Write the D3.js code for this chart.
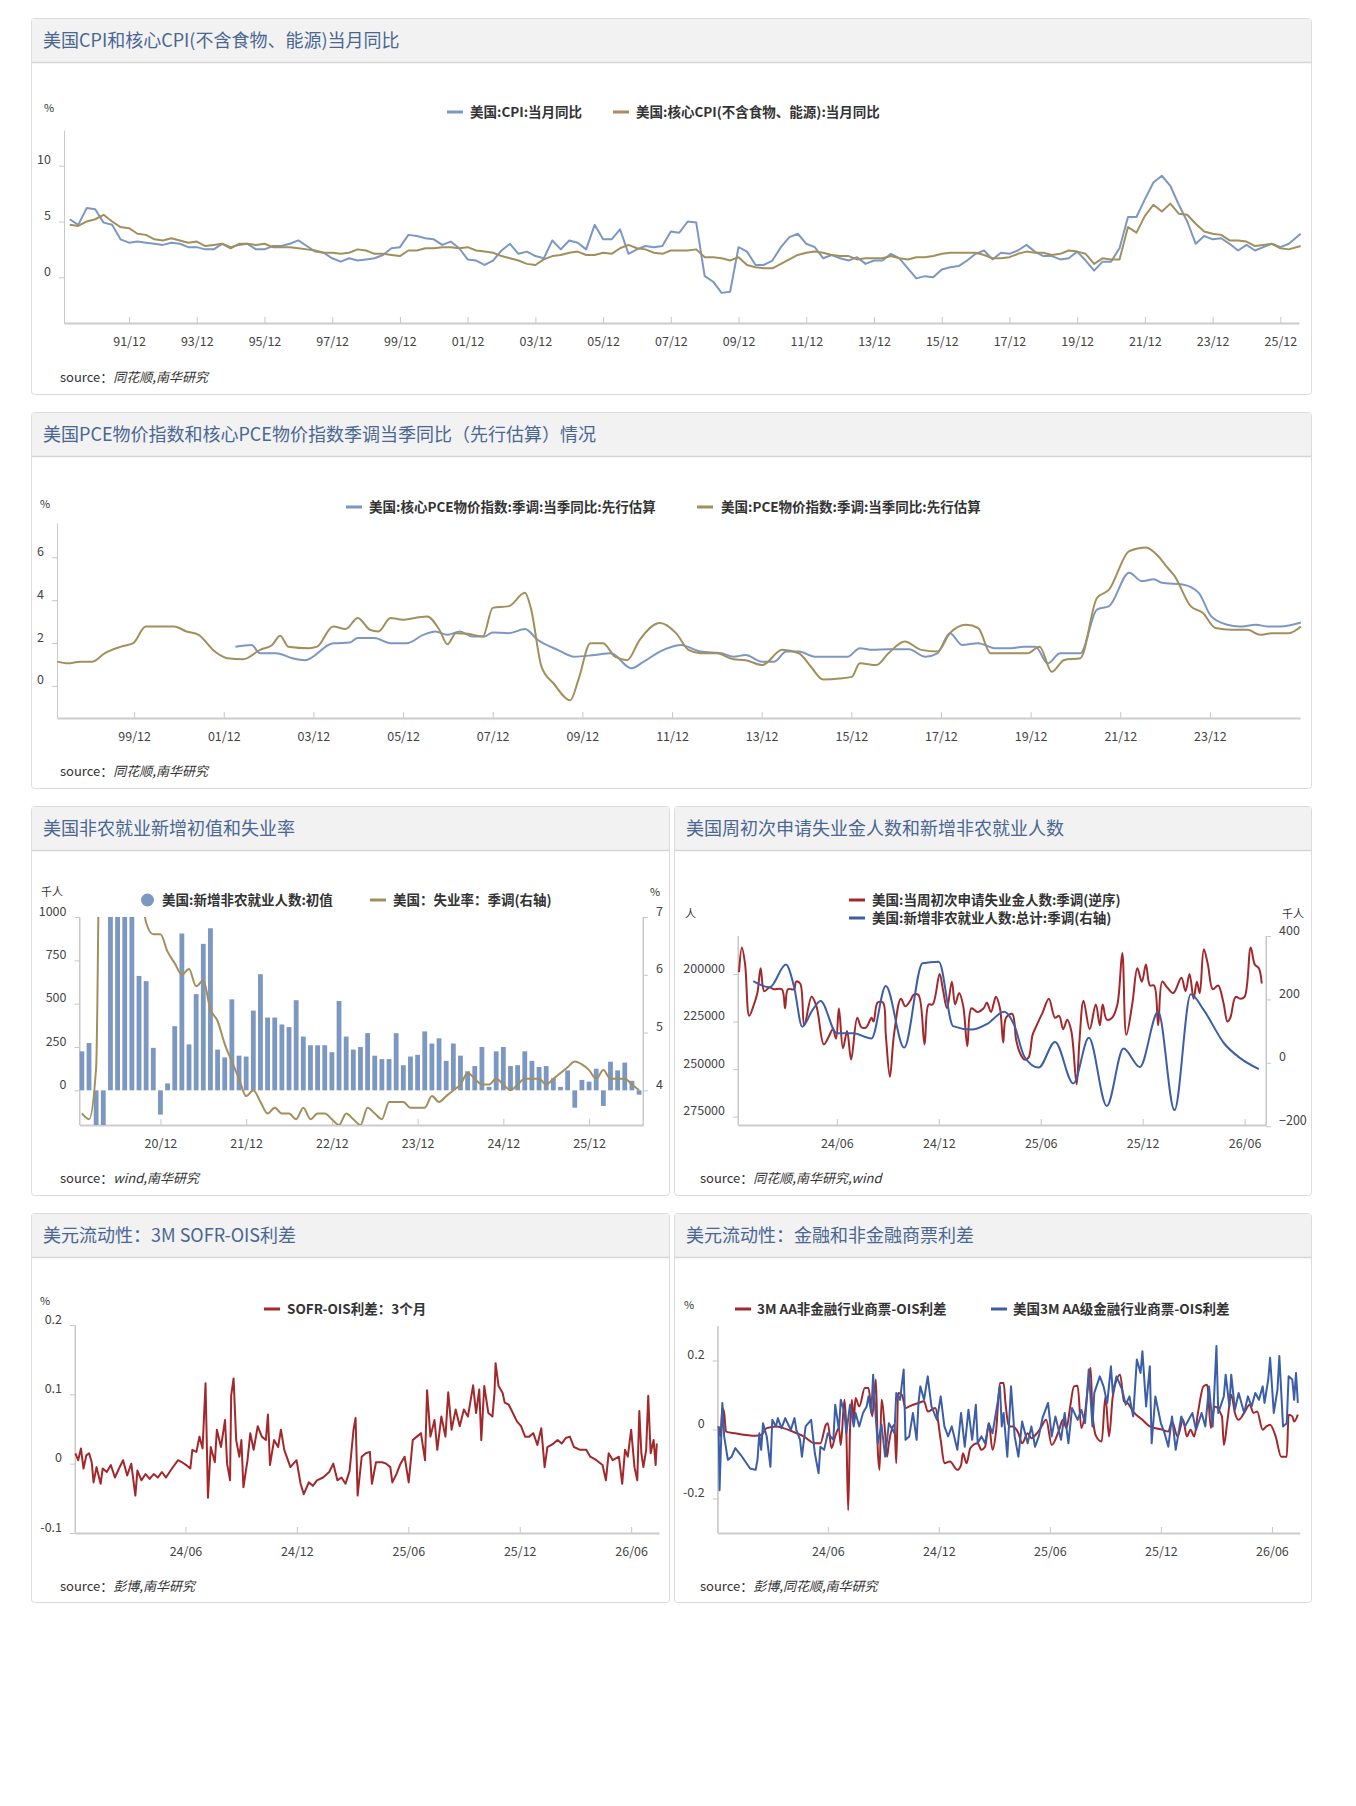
<!DOCTYPE html>
<html><head><meta charset="utf-8">
<script src="https://cdn.jsdelivr.net/npm/d3@7"></script>
<style>body{margin:0;background:#fff;font-family:"Noto Sans CJK SC","Noto Sans",sans-serif}</style>
</head><body><svg id="c" width="1356" height="1806"></svg>
<script>
// ---------- DATA ----------
// Chart 1: CPI YoY, quarterly (Mar,Jun,Sep,Dec) 1990-2025 + 2026 H1
const cpiVals=[5.2,4.7,6.2,6.1, 4.9,4.7,3.4,3.1, 3.2,3.1,3.0,2.9, 3.1,3.0,2.7,2.7, 2.5,2.5,3.0,2.7, 2.9,3.0,2.5,2.5, 2.8,2.8,3.0,3.3, 2.8,2.3,2.2,1.7, 1.4,1.7,1.5,1.6, 1.7,2.0,2.6,2.7, 3.8,3.7,3.5,3.4, 2.9,3.2,2.6,1.6, 1.5,1.1,1.5,2.4, 3.0,2.1,2.3,1.9, 1.7,3.3,2.5,3.3, 3.1,2.5,4.7,3.4, 3.4,4.3,2.1,2.5, 2.8,2.7,2.8,4.1, 4.0,5.0,4.9,0.1, -0.4,-1.4,-1.3,2.7, 2.3,1.1,1.1,1.5, 2.7,3.6,3.9,3.0, 2.7,1.7,2.0,1.7, 1.5,1.8,1.2,1.5, 1.5,2.1,1.7,0.8, -0.1,0.1,0.0,0.7, 0.9,1.0,1.5,2.1, 2.4,1.6,2.2,2.1, 2.4,2.9,2.3,1.9, 1.9,1.6,1.7,2.3, 1.5,0.6,1.4,1.4, 2.6,5.4,5.4,7.0, 8.5,9.1,8.2,6.5, 5.0,3.0,3.7,3.4, 3.5,3.0,2.4,2.9, 2.4,2.7,3.0,2.7, 3.0,3.9];
const coreVals=[4.7,4.6,5.0,5.2, 5.6,5.0,4.5,4.4, 3.9,3.8,3.4,3.3, 3.5,3.3,3.1,3.2, 2.8,2.9,3.0,2.6, 3.0,3.0,2.9,3.0, 2.7,2.7,2.7,2.6, 2.5,2.4,2.2,2.2, 2.1,2.2,2.5,2.4, 2.1,2.1,2.0,1.9, 2.4,2.4,2.6,2.6, 2.7,2.7,2.6,2.7, 2.4,2.3,2.2,1.9, 1.7,1.5,1.2,1.1, 1.6,1.9,2.0,2.2, 2.3,2.0,2.0,2.2, 2.1,2.6,2.9,2.6, 2.5,2.2,2.1,2.4, 2.4,2.4,2.5,1.8, 1.8,1.7,1.5,1.8, 1.1,0.9,0.8,0.8, 1.2,1.6,2.0,2.2, 2.3,2.2,2.0,1.9, 1.9,1.6,1.7,1.7, 1.7,1.9,1.7,1.6, 1.8,1.8,1.9,2.1, 2.2,2.2,2.2,2.2, 2.0,1.7,1.7,1.8, 2.1,2.3,2.2,2.2, 2.0,2.1,2.4,2.3, 2.1,1.2,1.7,1.6, 1.6,4.5,4.0,5.5, 6.5,5.9,6.6,5.7, 5.6,4.8,4.1,3.9, 3.8,3.3,3.3,3.2, 2.8,2.9,3.0,2.6, 2.5,2.8];
const cpiTicks=["91/12","93/12","95/12","97/12","99/12","01/12","03/12","05/12","07/12","09/12","11/12","13/12","15/12","17/12","19/12","21/12","23/12","25/12"];

// Chart 2: PCE (decimal year, value)
const pceData=[[1998.21,1.13],[1998.44,1.05],[1998.72,1.13],[1998.99,1.13],[1999.26,1.52],[1999.63,1.83],[1999.9,1.99],[2000.18,2.77],[2000.81,2.77],[2001.09,2.54],[2001.36,2.38],[2001.72,1.6],[2002.0,1.29],[2002.36,1.24],[2002.73,1.68],[2003.0,1.91],[2003.18,2.34],[2003.36,1.83],[2003.82,1.76],[2004.0,1.83],[2004.36,2.77],[2004.64,2.65],[2004.91,3.17],[2005.18,2.62],[2005.37,2.54],[2005.64,3.17],[2005.91,3.09],[2006.19,3.17],[2006.46,3.24],[2006.73,2.62],[2006.91,1.94],[2007.1,2.46],[2007.37,2.43],[2007.7,2.3],[2007.92,3.64],[2008.28,3.72],[2008.64,4.34],[2008.77,3.64],[2009.01,0.89],[2009.28,0.11],[2009.65,-0.67],[2009.83,0.27],[2010.1,1.99],[2010.38,1.99],[2010.65,1.36],[2010.92,1.2],[2011.2,2.15],[2011.65,2.93],[2012.01,2.46],[2012.29,1.68],[2012.56,1.52],[2012.92,1.52],[2013.29,1.24],[2013.56,1.2],[2013.93,0.97],[2014.38,1.68],[2014.75,1.52],[2015.02,0.89],[2015.29,0.3],[2015.66,0.34],[2015.93,0.42],[2016.11,1.05],[2016.48,0.97],[2016.75,1.52],[2017.11,2.07],[2017.48,1.68],[2017.84,1.6],[2018.12,2.46],[2018.48,2.85],[2018.75,2.7],[2019.03,1.52],[2019.48,1.52],[2019.85,1.52],[2020.12,1.83],[2020.39,0.66],[2020.67,1.21],[2021.03,1.29],[2021.4,4.1],[2021.67,4.49],[2022.12,6.29],[2022.49,6.46],[2022.76,6.07],[2022.94,5.6],[2023.13,5.13],[2023.49,3.72],[2023.76,3.41],[2024.04,2.7],[2024.4,2.62],[2024.76,2.62],[2025.04,2.38],[2025.31,2.46],[2025.68,2.46],[2025.95,2.77]];
const corePceData=[[2002.18,1.83],[2002.54,1.91],[2002.73,1.52],[2003.09,1.52],[2003.45,1.29],[2003.73,1.2],[2004.36,1.99],[2004.73,2.02],[2004.91,2.23],[2005.28,2.23],[2005.64,1.99],[2006.0,1.99],[2006.37,2.38],[2006.64,2.54],[2006.91,2.38],[2007.19,2.54],[2007.46,2.3],[2007.73,2.3],[2007.92,2.49],[2008.28,2.46],[2008.64,2.65],[2008.92,2.15],[2009.37,1.68],[2009.74,1.36],[2010.19,1.44],[2010.56,1.52],[2011.01,0.82],[2011.29,1.13],[2011.65,1.6],[2012.11,1.91],[2012.56,1.6],[2013.02,1.52],[2013.29,1.36],[2013.56,1.44],[2013.93,1.13],[2014.2,1.13],[2014.47,1.6],[2014.75,1.6],[2015.11,1.36],[2015.84,1.36],[2016.11,1.76],[2016.39,1.68],[2016.75,1.71],[2017.21,1.71],[2017.57,1.36],[2017.84,1.52],[2018.12,2.46],[2018.39,1.91],[2018.75,1.99],[2019.12,1.76],[2019.48,1.76],[2019.76,1.83],[2020.03,1.83],[2020.3,1.05],[2020.58,1.52],[2021.03,1.52],[2021.4,3.56],[2021.67,3.72],[2022.12,5.28],[2022.4,4.89],[2022.67,4.97],[2022.85,4.81],[2023.31,4.73],[2023.67,4.34],[2023.95,3.24],[2024.31,2.85],[2024.58,2.77],[2024.95,2.85],[2025.22,2.77],[2025.49,2.77],[2025.95,2.96]];
const pceTicks=["99/12","01/12","03/12","05/12","07/12","09/12","11/12","13/12","15/12","17/12","19/12","21/12","23/12"];

// Chart 3 left: monthly from 2020-01
const nfpVals=[225,273,-701,-20500,2509,4800,1763,1371,660,630, 245,-140,40,370,905,265,555,845,935,235, 190,525,200,195,460,670,420,420,380,365, 520,310,260,260,260,220,515,310,235,250, 330,200,180,180,330,145,195,205,340,270, 300,170,270,200,110,140,250,20,225,250, 140,145,225,170,135,140,70,20,115,-100, 60,50,125,-90,165,115,160,55,-25];
const unrateVals=[3.6,3.5,4.4,14.7,13.3,11.1,10.2,8.4,7.8,6.9,6.7,6.7, 6.4,6.2,6.0,6.1,5.8,5.9,5.4,5.2,4.8,4.5,4.2,3.9, 4.0,3.8,3.6,3.7,3.6,3.6,3.5,3.7,3.5,3.6,3.6,3.5, 3.4,3.6,3.5,3.4,3.7,3.6,3.5,3.8,3.8,3.8,3.7,3.7, 3.7,3.9,3.8,3.9,4.0,4.1,4.3,4.2,4.1,4.1,4.2,4.1, 4.0,4.1,4.2,4.2,4.2,4.1,4.2,4.3,4.4,4.5,4.45,4.35, 4.2,4.35,4.2,4.2,4.2,4.1,4.0];
const nfpTicks=["20/12","21/12","22/12","23/12","24/12","25/12"];

// Chart 3 right: decimal year
const claimsData=[[2023.935,202000],[2023.949,189000],[2023.965,198000],[2023.985,225000],[2024.005,220000],[2024.025,213000],[2024.041,200000],[2024.059,212000],[2024.085,210000],[2024.105,211000],[2024.145,211000],[2024.161,221000],[2024.175,211000],[2024.205,211000],[2024.215,207000],[2024.235,208000],[2024.255,230000],[2024.291,215000],[2024.315,220000],[2024.351,240000],[2024.375,236000],[2024.395,232000],[2024.411,237000],[2024.425,221000],[2024.445,242000],[2024.465,233000],[2024.485,248000],[2024.515,226000],[2024.535,231000],[2024.559,231000],[2024.585,226000],[2024.595,228000],[2024.615,218000],[2024.641,218000],[2024.655,235000],[2024.675,257000],[2024.695,235000],[2024.729,216000],[2024.751,220000],[2024.775,217000],[2024.791,214000],[2024.815,214000],[2024.845,240000],[2024.865,219000],[2024.885,219000],[2024.919,203000],[2024.935,211000],[2024.955,221000],[2024.979,207000],[2024.995,219000],[2025.015,213000],[2025.035,220000],[2025.055,241000],[2025.075,221000],[2025.105,223000],[2025.135,221000],[2025.151,218000],[2025.171,223000],[2025.195,215000],[2025.215,221000],[2025.231,239000],[2025.245,226000],[2025.275,224000],[2025.295,238000],[2025.315,245000],[2025.335,248000],[2025.355,247000],[2025.375,235000],[2025.395,230000],[2025.425,223000],[2025.455,216000],[2025.485,226000],[2025.505,225000],[2025.525,232000],[2025.545,227000],[2025.565,233000],[2025.591,261000],[2025.605,238000],[2025.625,217000],[2025.655,232000],[2025.685,219000],[2025.705,230000],[2025.719,219000],[2025.739,227000],[2025.765,226000],[2025.791,219000],[2025.815,192000],[2025.835,235000],[2025.865,218000],[2025.889,200000],[2025.911,207000],[2025.931,198000],[2025.951,209000],[2025.971,209000],[2025.991,230000],[2026.011,207000],[2026.035,210000],[2026.065,213000],[2026.105,205000],[2026.125,212000],[2026.145,203000],[2026.165,216000],[2026.181,207000],[2026.195,213000],[2026.215,190000],[2026.235,198000],[2026.259,211000],[2026.285,209000],[2026.311,218000],[2026.331,228000],[2026.345,226000],[2026.371,215000],[2026.395,216000],[2026.415,215000],[2026.445,189000],[2026.465,198000],[2026.485,200000],[2026.499,208000]];
const payrollData=[[2024.005,258],[2024.085,238],[2024.165,310],[2024.205,240],[2024.245,114],[2024.295,166],[2024.335,195],[2024.415,93],[2024.495,93],[2024.585,77],[2024.655,242],[2024.745,48],[2024.835,314],[2024.915,319],[2024.985,116],[2025.075,105],[2025.155,124],[2025.235,161],[2025.285,119],[2025.335,19],[2025.405,-15],[2025.485,66],[2025.575,-65],[2025.651,79],[2025.739,-136],[2025.821,45],[2025.901,-13],[2025.991,161],[2026.071,-149],[2026.151,216],[2026.215,166],[2026.315,61],[2026.395,14],[2026.485,-20]];
const halfYearTicks=["24/06","24/12","25/06","25/12","26/06"];

// Chart 4: t = months since 2023-12-01
const sofrData=[[0.07,.015],[0.22,.005],[0.37,.022],[0.51,-.007],[0.66,.012],[0.81,.015],[0.95,.002],[1.05,-.027],[1.21,-.005],[1.43,-.029],[1.54,-.007],[1.76,-.012],[1.98,-.002],[2.2,-.02],[2.42,-.007],[2.64,.005],[2.86,-.017],[3.08,0],[3.3,-.046],[3.41,-.01],[3.63,-.024],[3.85,-.015],[4.07,-.022],[4.29,-.015],[4.51,-.02],[4.73,-.012],[4.95,-.02],[5.27,-.007],[5.6,.005],[5.82,.002],[6.04,-.002],[6.26,-.007],[6.37,.02],[6.59,.017],[6.75,.039],[6.92,.022],[7.08,.116],[7.21,-.049],[7.36,.024],[7.58,.002],[7.69,.049],[7.91,.024],[8.13,.063],[8.24,0],[8.4,-.024],[8.46,.098],[8.59,.123],[8.73,.034],[8.9,.01],[9.01,.034],[9.12,-.034],[9.34,.005],[9.49,.044],[9.67,.02],[9.89,.054],[10.11,.039],[10.33,.034],[10.44,.071],[10.55,-.002],[10.77,.034],[10.99,.024],[11.14,.049],[11.32,.02],[11.65,-.005],[11.98,.005],[12.2,-.029],[12.37,-.044],[12.64,-.027],[12.86,-.032],[13.08,-.024],[13.41,-.02],[13.74,-.012],[13.96,0],[14.18,-.024],[14.4,-.02],[14.62,-.029],[14.84,-.01],[15.05,.049],[15.16,.066],[15.27,-.046],[15.49,.01],[15.71,.015],[15.93,.017],[16.04,-.029],[16.26,.002],[16.59,.002],[16.81,0],[17.03,-.005],[17.14,-.027],[17.36,-.015],[17.58,0],[17.8,.01],[18.02,-.027],[18.24,.034],[18.46,.039],[18.68,.044],[18.9,.005],[19.01,.106],[19.19,.039],[19.41,.063],[19.56,.02],[19.78,.068],[20,.039],[20.15,.103],[20.33,.049],[20.55,.078],[20.77,.054],[20.99,.078],[21.21,.068],[21.49,.113],[21.65,.073],[21.82,.107],[21.93,.034],[22.09,.112],[22.31,.073],[22.53,.068],[22.64,.102],[22.7,.145],[22.86,.112],[23.08,.102],[23.19,.088],[23.41,.085],[23.63,.073],[23.85,.061],[24.07,.054],[24.29,.039],[24.51,.039],[24.73,.044],[24.95,.027],[25.16,.051],[25.34,-.005],[25.49,.024],[25.82,.029],[26.04,.034],[26.26,.029],[26.48,.037],[26.7,.039],[26.92,.024],[27.25,.02],[27.58,.02],[27.8,.01],[28.13,.005],[28.46,-.002],[28.64,-.024],[28.79,.015],[29.01,.005],[29.34,.01],[29.52,-.029],[29.67,.02],[29.82,.01],[30,.049],[30.18,-.005],[30.33,-.024],[30.44,.076],[30.55,.015],[30.66,-.005],[30.81,.02],[30.92,.098],[31.05,.015],[31.21,.034],[31.32,-.002],[31.38,.029]];
const cpNonFin=[[0.1,0.009],[0.2,-0.02],[0.3,0.062],[0.4,0.048],[0.5,-0.006],[1.0,-0.011],[2.1,-0.018],[2.4,-0.016],[2.7,0.004],[3.2,0.009],[3.6,0.004],[4.1,-0.006],[4.7,-0.02],[5.3,-0.04],[5.6,-0.04],[5.9,0.014],[6.0,0.018],[6.2,-0.054],[6.4,-0.02],[6.6,0.004],[6.7,-0.045],[6.9,0.086],[7.0,-0.001],[7.1,-0.234],[7.2,-0.001],[7.3,0.086],[7.4,0.028],[7.5,0.091],[7.7,0.067],[8.0,0.12],[8.2,0.12],[8.4,0.038],[8.6,0.145],[8.7,-0.059],[8.8,-0.117],[8.9,0.086],[9.1,-0.011],[9.2,-0.079],[9.3,-0.04],[9.6,0.014],[9.7,-0.098],[9.8,0.106],[10.0,0.101],[10.2,0.062],[10.4,0.067],[10.9,0.077],[11.2,0.082],[11.4,0.052],[11.8,0.062],[12.1,-0.03],[12.3,-0.098],[12.6,-0.093],[13.0,-0.117],[13.2,-0.103],[13.3,-0.069],[13.5,-0.098],[13.7,-0.054],[14.1,-0.04],[14.3,-0.059],[14.5,-0.05],[14.7,0.018],[14.9,-0.059],[15.1,-0.001],[15.3,0.135],[15.5,0.135],[15.6,0.077],[15.8,0.009],[16.0,0.009],[16.3,-0.011],[16.5,-0.04],[16.8,-0.011],[17.0,-0.025],[17.3,-0.011],[17.5,0.004],[17.8,0.028],[18.1,-0.045],[18.5,-0.001],[18.7,0.028],[18.9,0.004],[19.1,0.067],[19.3,0.125],[19.5,0.127],[19.7,0.004],[19.9,0.048],[20.1,0.145],[20.2,0.179],[20.3,0.048],[20.5,-0.02],[20.8,-0.035],[21.0,0.096],[21.2,-0.02],[21.4,0.096],[21.8,0.159],[22.0,0.082],[22.2,0.077],[22.5,0.052],[23.0,0.028],[23.4,0.009],[24.1,-0.001],[24.4,-0.006],[24.6,0.023],[24.9,-0.02],[25.2,0.028],[25.4,-0.02],[25.6,-0.001],[25.8,-0.02],[26.0,0.048],[26.3,0.125],[26.5,0.13],[26.7,0.004],[26.9,0.067],[27.3,0.038],[27.4,-0.045],[27.6,0.028],[27.8,0.101],[28.0,0.048],[28.2,0.028],[28.5,0.048],[28.8,0.072],[29.0,0.048],[29.2,0.052],[29.5,-0.001],[29.7,0.009],[29.9,0.014],[30.2,-0.02],[30.5,-0.079],[30.8,-0.079],[30.9,0.043],[31.1,0.038],[31.2,0.023],[31.4,0.043]];
const cpFin=[[0.1,0.009],[0.15,-0.176],[0.3,0.077],[0.4,-0.02],[0.6,-0.088],[0.8,-0.079],[1.0,-0.054],[1.3,-0.074],[1.8,-0.113],[2.1,-0.117],[2.2,-0.088],[2.3,-0.011],[2.4,-0.059],[2.5,0.018],[2.7,-0.02],[2.9,-0.108],[3.0,0.028],[3.2,0.009],[3.3,0.033],[3.5,0.004],[3.7,0.033],[4.0,-0.001],[4.2,0.033],[4.3,-0.001],[4.5,-0.03],[4.6,-0.079],[4.8,0.009],[5.1,0.028],[5.3,-0.069],[5.5,-0.127],[5.6,-0.05],[5.8,-0.059],[6.0,-0.011],[6.3,-0.03],[6.4,0.072],[6.6,-0.001],[6.7,0.086],[6.9,0.048],[7.0,-0.011],[7.2,0.072],[7.4,0.009],[7.5,0.048],[7.7,0.009],[7.9,0.048],[8.1,0.067],[8.2,0.096],[8.35,0.048],[8.45,0.159],[8.6,0.028],[8.7,-0.04],[8.9,0.014],[9.1,-0.079],[9.3,0.018],[9.6,-0.011],[9.7,0.106],[9.9,0.086],[10.1,0.174],[10.2,-0.03],[10.4,-0.02],[10.6,0.048],[10.8,-0.03],[10.9,0.077],[11.0,0.125],[11.2,0.086],[11.4,0.154],[11.6,0.067],[11.9,0.028],[12.1,0.096],[12.3,0.009],[12.5,-0.02],[12.7,0.009],[13.0,-0.059],[13.2,0.048],[13.4,-0.05],[13.6,0.057],[13.8,-0.03],[14.0,0.072],[14.1,-0.04],[14.3,-0.02],[14.5,-0.04],[14.7,0.018],[14.9,-0.011],[15.2,0.086],[15.3,0.125],[15.4,0.009],[15.5,0.048],[15.7,-0.079],[15.9,0.125],[16.1,-0.02],[16.3,-0.079],[16.5,0.023],[16.8,-0.04],[17.0,0.009],[17.2,-0.05],[17.4,-0.02],[17.6,0.033],[17.9,0.077],[18.1,-0.02],[18.3,0.038],[18.6,-0.03],[18.8,0.048],[19.0,-0.04],[19.2,0.062],[19.5,0.028],[19.7,0.057],[19.9,0.018],[20.1,0.174],[20.3,0.009],[20.4,0.106],[20.7,0.154],[20.9,0.125],[21.1,0.077],[21.3,0.183],[21.4,0.106],[21.6,0.154],[21.9,0.116],[22.1,0.072],[22.3,0.096],[22.5,0.038],[22.7,0.203],[22.9,0.164],[23.0,0.227],[23.2,0.067],[23.4,0.183],[23.5,-0.04],[23.7,0.096],[24.0,0.018],[24.2,-0.011],[24.4,-0.05],[24.6,0.038],[24.8,-0.059],[25.1,0.038],[25.3,0.009],[25.5,0.028],[25.7,0.048],[25.9,-0.001],[26.2,0.048],[26.4,0.009],[26.6,0.125],[26.8,0.009],[27.0,0.242],[27.1,0.048],[27.4,0.096],[27.5,0.159],[27.7,0.067],[27.8,0.159],[28.0,0.057],[28.2,0.106],[28.5,0.048],[28.7,0.096],[28.9,0.067],[29.1,0.106],[29.3,0.086],[29.5,0.125],[29.6,0.077],[29.8,0.145],[29.9,0.208],[30.1,0.048],[30.3,0.116],[30.4,0.213],[30.6,0.009],[30.8,0.018],[30.9,0.154],[31.1,0.145],[31.2,0.086],[31.3,0.164],[31.4,0.077]];

// ---------- DRAW ----------
const svg=d3.select("#c");
const F='"Noto Sans CJK SC","Noto Sans",sans-serif';
const TITLE="#4a6792", TXT="#333", AX="#c8c8c8";
const C_BLUE="#7b97c2", C_TAN="#a38f5c", C_RED="#a3282b", C_DBLUE="#3b5ea6";

function card(x,y,w,h,title){
  svg.append("rect").attr("x",x+0.5).attr("y",y+0.5).attr("width",w).attr("height",h).attr("rx",3).attr("fill","#fff").attr("stroke","#dcdcdc");
  svg.append("rect").attr("x",x+1).attr("y",y+1).attr("width",w-1).attr("height",43).attr("fill","#f2f2f2");
  svg.append("line").attr("x1",x+1).attr("x2",x+w).attr("y1",y+44.5).attr("y2",y+44.5).attr("stroke","#d6d6d6").attr("stroke-width",1.5);
  svg.append("text").attr("x",x+12).attr("y",y+29).attr("font-family",F).attr("font-size",18).attr("fill",TITLE).text(title);
}
function txt(x,y,s,opt={}){
  return svg.append("text").attr("x",x).attr("y",y).attr("font-family",F).attr("font-size",opt.size||12.5)
   .attr("font-weight",opt.bold?"bold":"normal").attr("font-style",opt.italic?"italic":"normal")
   .attr("text-anchor",opt.anchor||"start").attr("fill",opt.fill||TXT).text(s);
}
function legLine(x,y,color){svg.append("line").attr("x1",x).attr("x2",x+16).attr("y1",y).attr("y2",y).attr("stroke",color).attr("stroke-width",3);}
function styleAxis(g){g.selectAll("path,line").attr("stroke",AX);g.selectAll("text").attr("font-family",F).attr("font-size",12.5).attr("fill","#444");}
function source(x,y,s){
  const t=svg.append("text").attr("x",x).attr("y",y).attr("font-family",F).attr("font-size",13).attr("fill",TXT);
  t.append("tspan").text("source：");t.append("tspan").attr("font-style","italic").text(s);
}
function xAxis(sc,y,vals,labels){
  const g=svg.append("g").attr("transform",`translate(0,${y})`).call(d3.axisBottom(sc).tickValues(vals).tickFormat((d,i)=>labels[i]).tickSizeInner(-6).tickSizeOuter(0).tickPadding(14));
  styleAxis(g); g.select(".domain").attr("stroke","#ccc").attr("stroke-width",2);
  return g;
}
function yAxis(sc,x,vals,fmt,right){
  const ax=(right?d3.axisRight(sc):d3.axisLeft(sc)).tickValues(vals).tickFormat(fmt||(d=>d)).tickSizeInner(5).tickSizeOuter(0).tickPadding(8);
  const g=svg.append("g").attr("transform",`translate(${x},0)`).call(ax); styleAxis(g);
  g.selectAll("text").attr("dy","-0.15em");
  return g;
}
function path(data,x,y,color,w,curve){
  svg.append("path").datum(data).attr("fill","none").attr("stroke",color).attr("stroke-width",w).attr("stroke-linejoin","round")
    .attr("d",d3.line().x(d=>x(d[0])).y(d=>y(d[1])).curve(curve||d3.curveLinear));
}
const LS=13.5;

// Card 1
card(31,18,1280,376,"美国CPI和核心CPI(不含食物、能源)当月同比");
{
  const x=d3.scaleLinear().domain([1990.03,2026.5]).range([64,1299]);
  const y=d3.scaleLinear().domain([-4.1,13.2]).range([323,130]);
  const qoff=[0.2,0.45,0.7,0.95];
  const toPts=v=>v.map((d,i)=>[1990+Math.floor(i/4)+qoff[i%4]-(i===145?-0.1:0),d]);
  const tv=cpiTicks.map((s,i)=>1991.95+2*i);
  xAxis(x,323,tv,cpiTicks);
  yAxis(y,64,[0,5,10]);
  path(toPts(cpiVals),x,y,C_BLUE,2);
  path(toPts(coreVals),x,y,C_TAN,2);
  txt(44,112,"%",{size:11});
  legLine(447,112,C_BLUE); txt(470,117,"美国:CPI:当月同比",{bold:true,size:LS});
  legLine(613,112,C_TAN); txt(636,117,"美国:核心CPI(不含食物、能源):当月同比",{bold:true,size:LS});
  source(60,382,"同花顺,南华研究");
}
// Card 2
card(31,412,1280,376,"美国PCE物价指数和核心PCE物价指数季调当季同比（先行估算）情况");
{
  const x=d3.scaleLinear().domain([1998.2,2025.93]).range([57,1300]);
  const y=d3.scaleLinear().domain([-1.5,7.6]).range([718,523]);
  const tv=pceTicks.map((s,i)=>1999.92+2*i);
  xAxis(x,718,tv,pceTicks);
  yAxis(y,57,[0,2,4,6]);
  path(corePceData,x,y,C_BLUE,2,d3.curveMonotoneX);
  path(pceData,x,y,C_TAN,2,d3.curveMonotoneX);
  txt(40,508,"%",{size:11});
  legLine(346,507,C_BLUE); txt(369,512,"美国:核心PCE物价指数:季调:当季同比:先行估算",{bold:true,size:LS});
  legLine(697,507,C_TAN); txt(721,512,"美国:PCE物价指数:季调:当季同比:先行估算",{bold:true,size:LS});
  source(60,776,"同花顺,南华研究");
}
// Card 3 left
card(31,806,638,389,"美国非农就业新增初值和失业率");
{
  const x=d3.scaleLinear().domain([-0.33,78.55]).range([79.5,643]);
  const yl=d3.scaleLinear().domain([-200,1000]).range([1125,917]);
  const yr=d3.scaleLinear().domain([3.4,7]).range([1125,917]);
  svg.append("clipPath").attr("id","clip3").append("rect").attr("x",79.5).attr("y",917).attr("width",564).attr("height",208);
  const tv=nfpTicks.map((s,i)=>11+12*i);
  xAxis(x,1125,tv,nfpTicks);
  yAxis(yl,79.5,[0,250,500,750,1000]);
  yAxis(yr,643,[4,5,6,7],null,true);
  svg.append("line").attr("x1",643).attr("x2",643).attr("y1",917).attr("y2",1125).attr("stroke",AX);
  svg.append("line").attr("x1",79.5).attr("x2",79.5).attr("y1",917).attr("y2",1125).attr("stroke",AX);
  const gb=svg.append("g").attr("clip-path","url(#clip3)");
  gb.selectAll("rect").data(nfpVals).join("rect").attr("x",(d,i)=>x(i)-2.4).attr("width",4.8)
    .attr("y",d=>yl(Math.max(0,d))).attr("height",d=>Math.abs(yl(d)-yl(0))).attr("fill",C_BLUE);
  gb.append("path").datum(unrateVals).attr("fill","none").attr("stroke",C_TAN).attr("stroke-width",2)
    .attr("d",d3.line().x((d,i)=>x(i)).y(d=>yr(d)).curve(d3.curveMonotoneX));
  txt(41,896,"千人",{size:11}); txt(650,896,"%",{size:11});
  svg.append("circle").attr("cx",147.5).attr("cy",900).attr("r",6.5).attr("fill",C_BLUE);
  txt(162,905,"美国:新增非农就业人数:初值",{bold:true,size:LS});
  legLine(370,900,C_TAN); txt(393,905,"美国：失业率：季调(右轴)",{bold:true,size:LS});
  source(60,1183,"wind,南华研究");
}
// Card 3 right
card(674,806,637,389,"美国周初次申请失业金人数和新增非农就业人数");
{
  const x=d3.scaleLinear().domain([2023.93,2026.52]).range([738,1266]);
  const yl=d3.scaleLinear().domain([180000,279400]).range([936,1125]);
  const yr=d3.scaleLinear().domain([-196,400]).range([1125,936]);
  const tv=[2024.415,2024.915,2025.415,2025.915,2026.415];
  xAxis(x,1125,tv,halfYearTicks);
  yAxis(yl,738,[200000,225000,250000,275000]);
  yAxis(yr,1266,[-200,0,200,400],d=>d<0?"−"+(-d):d,true);
  svg.append("line").attr("x1",738).attr("x2",738).attr("y1",936).attr("y2",1125).attr("stroke",AX);
  svg.append("line").attr("x1",1266).attr("x2",1266).attr("y1",936).attr("y2",1125).attr("stroke",AX);
  path(claimsData.map(d=>[d[0],d[1]-3000]),x,yl,C_RED,2,d3.curveCatmullRom);
  path(payrollData,x,yr,C_DBLUE,2,d3.curveMonotoneX);
  txt(685,918,"人",{size:11}); txt(1282,918,"千人",{size:11});
  legLine(849,900,C_RED); txt(872,905,"美国:当周初次申请失业金人数:季调(逆序)",{bold:true,size:LS});
  legLine(849,918,C_DBLUE); txt(872,923,"美国:新增非农就业人数:总计:季调(右轴)",{bold:true,size:LS});
  source(700,1183,"同花顺,南华研究,wind");
}
// Card 4 left
card(31,1213,638,389,"美元流动性：3M SOFR-OIS利差");
{
  const x=d3.scaleLinear().domain([0.05,31.5]).range([75,659]);
  const y=d3.scaleLinear().domain([-0.1,0.2]).range([1533,1325]);
  xAxis(x,1533,[6,12,18,24,30],halfYearTicks);
  yAxis(y,75,[-0.1,0,0.1,0.2]);
  svg.append("line").attr("x1",75).attr("x2",75).attr("y1",1325).attr("y2",1533).attr("stroke",AX);
  path(sofrData,x,y,C_RED,2);
  txt(40,1305,"%",{size:11});
  legLine(264,1309,C_RED); txt(287,1314,"SOFR-OIS利差：3个月",{bold:true,size:LS});
  source(60,1591,"彭博,南华研究");
}
// Card 4 right
card(674,1213,637,389,"美元流动性：金融和非金融商票利差");
{
  const x=d3.scaleLinear().domain([0.05,31.5]).range([717.7,1299.7]);
  const y=d3.scaleLinear().domain([-0.3,0.3]).range([1533,1326]);
  xAxis(x,1533,[6,12,18,24,30],halfYearTicks);
  yAxis(y,717.7,[-0.2,0,0.2]);
  svg.append("line").attr("x1",717.7).attr("x2",717.7).attr("y1",1326).attr("y2",1533).attr("stroke",AX);
  path(cpNonFin,x,y,C_RED,2,d3.curveMonotoneX);
  path(cpFin,x,y,C_DBLUE,2);
  txt(684,1309,"%",{size:11});
  legLine(735,1309,C_RED); txt(757,1314,"3M AA非金融行业商票-OIS利差",{bold:true,size:LS});
  legLine(991,1309,C_DBLUE); txt(1013,1314,"美国3M AA级金融行业商票-OIS利差",{bold:true,size:LS});
  source(700,1591,"彭博,同花顺,南华研究");
}
</script></body></html>
